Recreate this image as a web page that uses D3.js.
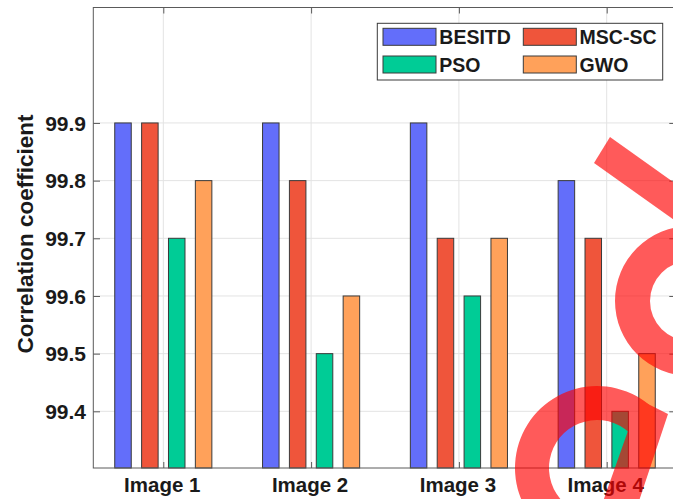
<!DOCTYPE html>
<html>
<head>
<meta charset="utf-8">
<script src="https://cdn.jsdelivr.net/npm/d3@7"></script>
<style>
  html, body { margin: 0; padding: 0; background: #ffffff; }
  svg { display: block; font-family: "Liberation Sans", Arial, sans-serif; }
</style>
</head>
<body>
<div id="chart"></div>
<script>
// Correlation coefficient per test image for four optimisation methods
const categories = ["Image 1", "Image 2", "Image 3", "Image 4"];
const seriesNames = ["BESITD", "MSC-SC", "PSO", "GWO"];
const besitd = [99.9, 99.9, 99.9, 99.8];
const mscsc  = [99.9, 99.8, 99.7, 99.7];
const pso    = [99.7, 99.5, 99.6, 99.4];
const gwo    = [99.8, 99.6, 99.7, 99.5];
const yTicks = [99.4, 99.5, 99.6, 99.7, 99.8, 99.9];
const colors = ["#636efa", "#ef553b", "#00cc96", "#ffa15a"];

const seriesValues = [besitd, mscsc, pso, gwo];

const W = 673, H = 499;
const frame = { left: 93.3, right: 676, top: 7.5, bottom: 468 };

const svg = d3.select("#chart").append("svg")
  .attr("width", W).attr("height", H);

// category index 1..4 on a continuous axis, grouped bars offset around each
const x = d3.scaleLinear().domain([1, 4]).range([163.3, 606.7]);
const y = d3.scaleLinear().domain([99.3, 100.1]).range([469, 7.6]);
const groupStep = 0.1818;
const barW = x(1.1117) - x(1);
const offset = i => (i - (seriesNames.length - 1) / 2) * groupStep;

// grid
const grid = svg.append("g").attr("stroke", "#e3e3e3").attr("stroke-width", 1);
grid.selectAll("line.h").data(yTicks).join("line")
  .attr("x1", frame.left).attr("x2", frame.right)
  .attr("y1", d => y(d)).attr("y2", d => y(d));
grid.selectAll("line.v").data(d3.range(1, categories.length + 1)).join("line")
  .attr("x1", d => x(d)).attr("x2", d => x(d))
  .attr("y1", frame.top).attr("y2", frame.bottom);

// bars
const rows = [];
seriesValues.forEach((vals, si) => {
  vals.forEach((v, ci) => rows.push({ si, ci, v }));
});
svg.append("g").selectAll("rect").data(rows).join("rect")
  .attr("x", d => x(d.ci + 1 + offset(d.si)) - barW / 2)
  .attr("width", barW)
  .attr("y", d => y(d.v))
  .attr("height", d => frame.bottom - y(d.v))
  .attr("fill", d => colors[d.si])
  .attr("stroke", "#3a3a3a")
  .attr("stroke-width", 1);

// axes box and inward ticks
const axisColor = "#5a5a5a";
svg.append("rect")
  .attr("x", frame.left).attr("y", frame.top)
  .attr("width", frame.right - frame.left).attr("height", frame.bottom - frame.top)
  .attr("fill", "none").attr("stroke", axisColor).attr("stroke-width", 1);

const leftAxis = d3.axisRight(y).tickValues(yTicks).tickSize(6.7).tickFormat("");
svg.append("g").attr("transform", `translate(${frame.left},0)`).call(leftAxis)
  .call(g => g.select(".domain").remove())
  .call(g => g.selectAll("line").attr("stroke", axisColor));
const rightAxis = d3.axisLeft(y).tickValues(yTicks).tickSize(6.7).tickFormat("");
svg.append("g").attr("transform", `translate(${frame.right},0)`).call(rightAxis)
  .call(g => g.select(".domain").remove())
  .call(g => g.selectAll("line").attr("stroke", axisColor));
const bottomAxis = d3.axisTop(x).tickValues([1, 2, 3, 4]).tickSize(6).tickFormat("");
svg.append("g").attr("transform", `translate(0,${frame.bottom})`).call(bottomAxis)
  .call(g => g.select(".domain").remove())
  .call(g => g.selectAll("line").attr("stroke", axisColor));
const topAxis = d3.axisBottom(x).tickValues([1, 2, 3, 4]).tickSize(6).tickFormat("");
svg.append("g").attr("transform", `translate(0,${frame.top})`).call(topAxis)
  .call(g => g.select(".domain").remove())
  .call(g => g.selectAll("line").attr("stroke", axisColor));

// tick labels
svg.append("g").selectAll("text").data(yTicks).join("text")
  .attr("x", 86).attr("y", d => y(d)).attr("dy", "0.36em")
  .attr("text-anchor", "end")
  .attr("font-size", 21).attr("font-weight", "bold").attr("fill", "#1a1a1a")
  .text(d => d.toFixed(1));
svg.append("g").selectAll("text").data(categories).join("text")
  .attr("x", (d, i) => x(i + 1) - 1).attr("y", 491.5)
  .attr("text-anchor", "middle")
  .attr("font-size", 20.5).attr("font-weight", "bold").attr("fill", "#1a1a1a")
  .text(d => d);

svg.append("text")
  .attr("transform", "translate(33,234) rotate(-90)")
  .attr("text-anchor", "middle")
  .attr("font-size", 22.5).attr("font-weight", "bold").attr("fill", "#1a1a1a")
  .text("Correlation coefficient");

// legend (two columns, row-major)
const legend = svg.append("g");
legend.append("rect")
  .attr("x", 377.3).attr("y", 23.3).attr("width", 285.4).attr("height", 56.7)
  .attr("fill", "#ffffff").attr("stroke", "#3a3a3a").attr("stroke-width", 1);
const legItems = legend.selectAll("g.item").data(seriesNames).join("g")
  .attr("transform", (d, i) => `translate(${383 + (i % 2) * 140.3},${28.3 + Math.floor(i / 2) * 27.7})`);
legItems.append("rect")
  .attr("width", 53).attr("height", 17)
  .attr("fill", (d, i) => colors[i])
  .attr("stroke", "#3a3a3a").attr("stroke-width", 1);
legItems.append("text")
  .attr("x", 56.3).attr("y", 15.7)
  .attr("font-size", 19.5).attr("font-weight", "bold").attr("fill", "#1a1a1a")
  .text(d => d);

// red stamp strokes over the right-hand side
const stamp = svg.append("g").attr("opacity", 0.65).attr("fill", "#ff0000");
// upper diagonal bar
stamp.append("path").attr("d", "M610,137 L738,228 L722,254 L594,163 Z");
// upper ring
stamp.append("path")
  .attr("transform", "translate(690,301)")
  .attr("d", d3.arc()({ innerRadius: 40, outerRadius: 75, startAngle: 0, endAngle: 2 * Math.PI }));
// lower ring, open on the right
stamp.append("path")
  .attr("transform", "translate(597,468)")
  .attr("d", d3.arc()({ innerRadius: 48, outerRadius: 82, startAngle: -Math.PI, endAngle: 0.87 }));
// lower slanted stroke
stamp.append("path").attr("d", "M640,400 L668,414 L636,510 L600,510 L629,428 Z");
</script>
</body>
</html>
